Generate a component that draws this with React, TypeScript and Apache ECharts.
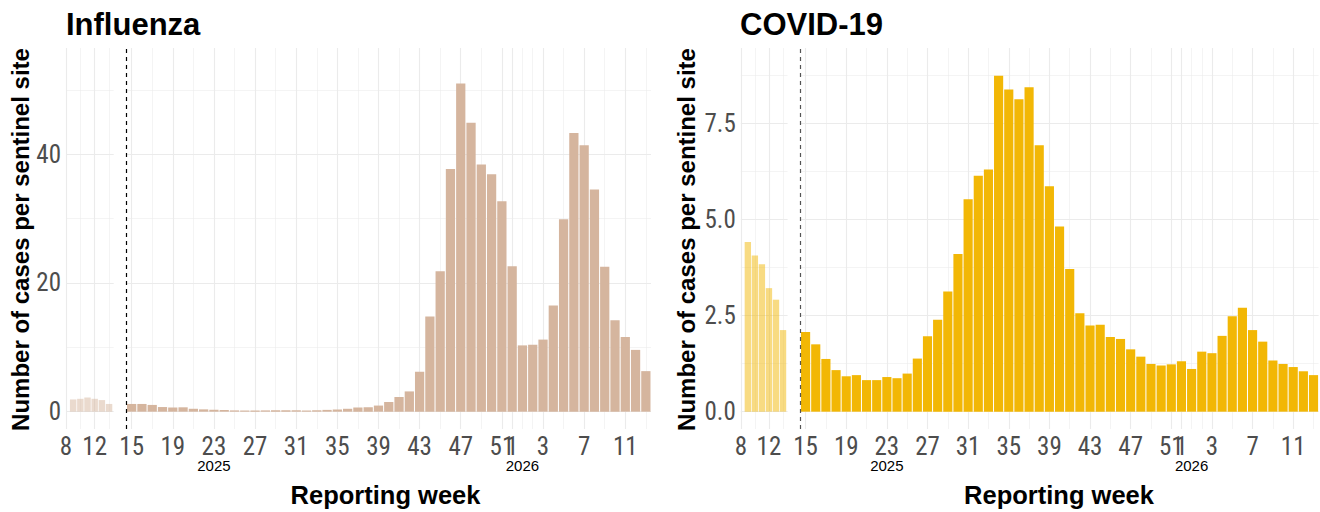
import React, { useEffect, useRef } from "react";
import * as echarts from "echarts";

// ---- data ----
const miniWeeks = [9, 10, 11, 12, 13, 14]; // end of previous season (2025)
const mainWeeks = [
  15, 16, 17, 18, 19, 20, 21, 22, 23, 24, 25, 26, 27, 28, 29, 30, 31, 32, 33,
  34, 35, 36, 37, 38, 39, 40, 41, 42, 43, 44, 45, 46, 47, 48, 49, 50, 51, 52,
  1, 2, 3, 4, 5, 6, 7, 8, 9, 10, 11, 12, 13,
];
const fluMini = [1.9, 2.0, 2.2, 2.0, 1.8, 1.2];
const fluMain = [
  1.2, 1.2, 1.05, 0.72, 0.65, 0.68, 0.45, 0.36, 0.3, 0.26, 0.2, 0.18, 0.17,
  0.2, 0.21, 0.22, 0.22, 0.18, 0.22, 0.28, 0.34, 0.45, 0.65, 0.7, 0.95, 1.5,
  2.3, 3.15, 6.2, 14.8, 21.8, 37.7, 51.0, 44.9, 38.4, 36.9, 32.7, 22.6, 10.3,
  10.4, 11.2, 16.5, 29.9, 43.3, 41.4, 34.5, 22.5, 14.2, 11.6, 9.6, 6.3,
];
const covidMini = [4.41, 4.06, 3.83, 3.21, 2.91, 2.12];
const covidMain = [
  2.07, 1.75, 1.37, 1.08, 0.92, 0.95, 0.82, 0.82, 0.9, 0.87, 0.99, 1.38, 1.96,
  2.39, 3.12, 4.1, 5.52, 6.13, 6.29, 8.73, 8.37, 8.12, 8.43, 6.92, 5.86, 4.81,
  3.71, 2.56, 2.24, 2.26, 1.94, 1.89, 1.62, 1.43, 1.24, 1.2, 1.23, 1.31, 1.11,
  1.56, 1.52, 1.97, 2.48, 2.7, 2.12, 1.82, 1.33, 1.24, 1.16, 1.05, 0.95,
];

// ---- ticks ----
const miniTicks = [8, 12];
const miniMinor = [10, 14];
const mainTickIdx = [0, 4, 8, 12, 16, 20, 24, 28, 32, 36, 37, 40, 44, 48];
const mainTickLabels = ["15", "19", "23", "27", "31", "35", "39", "43", "47", "51", "1", "3", "7", "11"];
const mainMinorIdx = [2, 6, 10, 14, 18, 22, 26, 30, 34, 38, 39, 42, 46, 50];
const yearTickIdx = [8, 38];
const yearLabels = ["2025", "2026"];
const fluYTicks = [0, 20, 40];
const fluYMinor = [10, 30, 50];
const covidYTicks = [0, 2.5, 5, 7.5];
const covidYMinor = [1.25, 3.75, 6.25, 8.75];
const seasonStart = -0.5; // between week 14 and week 15

const FONT = '"Liberation Sans", Arial, Helvetica, sans-serif';
const TICKFONT = '"Liberation Sans Narrow", "Arial Narrow", "Roboto Condensed", "Liberation Sans", Arial, sans-serif';
const MAJOR = "#EBEBEB";
const TICK_SIZE = 25;

function buildPanel(cfg: any, xs: any[], ys: any[], series: any[]) {
  const g0 = cfg.gridMini;
  const g1 = cfg.gridMain;
  const xb = xs.length;
  const yb = ys.length;
  const hidden = { show: false };
  xs.push({
    type: "value", gridIndex: g0, min: 8, max: 14.65,
    axisLine: hidden,
    axisTick: { show: false, customValues: miniTicks },
    axisLabel: { customValues: miniTicks, fontSize: TICK_SIZE, lineHeight: 19, color: "#4D4D4D", fontFamily: TICKFONT, margin: 7.5 },
    splitLine: { show: true, lineStyle: { color: MAJOR, width: 1.1 } },
  });
  xs.push({
    type: "value", gridIndex: g0, min: 8, max: 14.65,
    axisLine: hidden, axisTick: { show: false, customValues: miniMinor }, axisLabel: hidden,
    splitLine: { show: true, lineStyle: { color: MAJOR, width: 0.55 } },
  });
  xs.push({
    type: "value", gridIndex: g1, min: -0.55, max: 50.5,
    axisLine: hidden,
    axisTick: { show: false, customValues: mainTickIdx },
    axisLabel: {
      customValues: mainTickIdx, fontSize: TICK_SIZE, lineHeight: 19, color: "#4D4D4D", fontFamily: TICKFONT, margin: 7.5,
      formatter: (v: number) => {
        const i = mainTickIdx.indexOf(Math.round(v));
        return i >= 0 ? mainTickLabels[i] : "";
      },
    },
    splitLine: { show: true, lineStyle: { color: MAJOR, width: 1.1 } },
  });
  xs.push({
    type: "value", gridIndex: g1, min: -0.55, max: 50.5,
    axisLine: hidden, axisTick: { show: false, customValues: mainMinorIdx }, axisLabel: hidden,
    splitLine: { show: true, lineStyle: { color: MAJOR, width: 0.55 } },
  });
  xs.push({
    type: "value", gridIndex: g1, min: -0.55, max: 50.5, position: "bottom",
    axisLine: hidden, axisTick: { show: false, customValues: yearTickIdx },
    axisLabel: {
      customValues: yearTickIdx, fontSize: 15, lineHeight: 14, color: "#000", fontFamily: FONT, margin: 29,
      formatter: (v: number) => {
        const i = yearTickIdx.indexOf(Math.round(v));
        return i >= 0 ? yearLabels[i] : "";
      },
    },
    splitLine: hidden,
  });
  const yMaj = (grid: number, showLabel: boolean) => ({
    type: "value", gridIndex: grid, min: cfg.yMin, max: cfg.yMax,
    axisLine: hidden,
    axisTick: { show: false, customValues: cfg.yTicks },
    axisLabel: showLabel
      ? { customValues: cfg.yTicks, fontSize: TICK_SIZE, color: "#4D4D4D", fontFamily: TICKFONT, margin: 5, formatter: cfg.yFmt }
      : { show: false },
    splitLine: { show: true, lineStyle: { color: MAJOR, width: 1.1 } },
  });
  const yMin = (grid: number) => ({
    type: "value", gridIndex: grid, min: cfg.yMin, max: cfg.yMax,
    axisLine: hidden, axisTick: { show: false, customValues: cfg.yMinor }, axisLabel: hidden,
    splitLine: { show: true, lineStyle: { color: MAJOR, width: 0.55 } },
  });
  ys.push(yMaj(g0, true), yMin(g0), yMaj(g1, false), yMin(g1));

  series.push({
    type: "bar", xAxisIndex: xb, yAxisIndex: yb, barWidth: "90%",
    itemStyle: { color: cfg.color, opacity: 0.5 },
    data: miniWeeks.map((w, i) => [w, cfg.mini[i]]),
  });
  series.push({
    type: "bar", xAxisIndex: xb + 2, yAxisIndex: yb + 2, barWidth: "90%",
    itemStyle: { color: cfg.color },
    data: mainWeeks.map((w, i) => [i, cfg.main[i]]),
    markLine: {
      silent: true, symbol: ["none", "none"], label: { show: false },
      lineStyle: { type: [4, 4], color: cfg.dashColor, width: 1.2 },
      data: [{ xAxis: seasonStart }],
    },
  });
}

export default function App() {
  const ref = useRef<HTMLDivElement>(null);
  useEffect(() => {
    if (!ref.current) return;
    const chart = echarts.init(ref.current, undefined, { renderer: "svg" });
    const xs: any[] = [];
    const ys: any[] = [];
    const series: any[] = [];
    buildPanel(
      { gridMini: 0, gridMain: 1, yMin: -2.69, yMax: 56.5, yTicks: fluYTicks, yMinor: fluYMinor,
        yFmt: (v: number) => String(v), color: "#D5B59E", dashColor: "#000", mini: fluMini, main: fluMain },
      xs, ys, series
    );
    buildPanel(
      { gridMini: 2, gridMain: 3, yMin: -0.45, yMax: 9.45, yTicks: covidYTicks, yMinor: covidYMinor,
        yFmt: (v: number) => v.toFixed(1), color: "#F2B705", dashColor: "#555", mini: covidMini, main: covidMain },
      xs, ys, series
    );
    const titleFont = `bold 31px ${FONT}`;
    const yTitleFont = `bold 24px ${FONT}`;
    const xTitleFont = `bold 25.5px ${FONT}`;
    chart.setOption({
      animation: false,
      backgroundColor: "#fff",
      grid: [
        { left: 66, width: 47.7, top: 48, height: 381, outerBoundsMode: "none" },
        { left: 126, width: 525, top: 48, height: 381, outerBoundsMode: "none" },
        { left: 740.8, width: 46.8, top: 48, height: 381, outerBoundsMode: "none" },
        { left: 800, width: 518.6, top: 48, height: 381, outerBoundsMode: "none" },
      ],
      xAxis: xs,
      yAxis: ys,
      series,
      graphic: [
        { type: "text", x: 66, y: 24, style: { text: "Influenza", font: titleFont, fill: "#000", verticalAlign: "middle" } },
        { type: "text", x: 740, y: 24, style: { text: "COVID-19", font: titleFont, fill: "#000", verticalAlign: "middle" } },
        { type: "text", x: 20, y: 239.5, rotation: Math.PI / 2,
          style: { text: "Number of cases per sentinel site", font: yTitleFont, fill: "#000", align: "center", verticalAlign: "middle" } },
        { type: "text", x: 686.5, y: 239.5, rotation: Math.PI / 2,
          style: { text: "Number of cases per sentinel site", font: yTitleFont, fill: "#000", align: "center", verticalAlign: "middle" } },
        { type: "text", x: 385.5, y: 495, style: { text: "Reporting week", font: xTitleFont, fill: "#000", align: "center", verticalAlign: "middle" } },
        { type: "text", x: 1059, y: 495, style: { text: "Reporting week", font: xTitleFont, fill: "#000", align: "center", verticalAlign: "middle" } },
      ],
    });
    return () => chart.dispose();
  }, []);
  return <div ref={ref} style={{ position: "absolute", left: 0, top: 0, width: 1320, height: 512 }} />;
}
